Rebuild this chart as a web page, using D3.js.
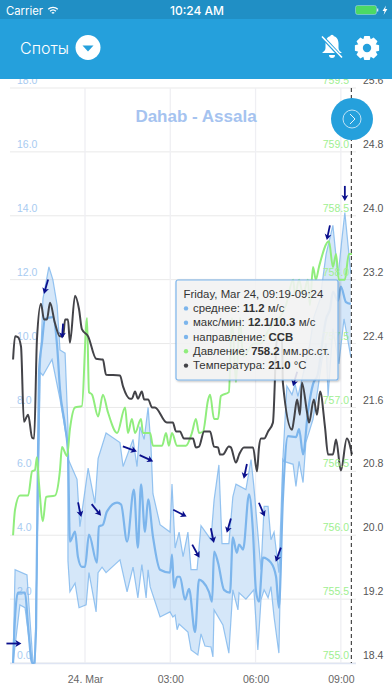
<!DOCTYPE html>
<html>
<head>
<meta charset="utf-8">
<script src="https://d3js.org/d3.v7.min.js"></script>
<style>
  html, body { margin: 0; padding: 0; background: #fff; overflow: hidden; }
  text { font-family: "Liberation Sans", Arial, sans-serif; }
</style>
</head>
<body>
<div id="chart"></div>
<script>
// hours relative to 24 Mar 00:00
const maxHours = [-2.53,-2.46,-2.04,-2,-1.83,-1.76,-1.69,-1.58,-1.48,-1.27,-1.13,-0.98,-0.88,-0.7,-0.6,-0.6,-0.28,-0.18,0.11,0.35,0.46,0.74,1.23,1.34,1.69,1.83,1.93,2.08,2.22,2.32,2.39,2.64,2.99,3.06,3.17,3.31,3.45,3.62,3.73,3.94,4.08,4.43,4.54,4.71,4.82,5.06,5.2,5.31,5.66,5.84,5.94,6.19,6.3,6.44,6.54,6.65,6.82,6.96,7.1,7.28,7.39,7.49,7.67,7.91,8.05,8.27,8.48,8.72,8.9,9.04,9.14,9.35];
const maxValues = [0,2.92,2.76,2.2,0,0,3.2,9.1,11.4,12.4,12,11.2,9.8,9.7,7.4,6.4,5.75,4.27,6.1,5,6.4,7.2,6.9,6.15,7,6.15,7.4,7,8,6.8,5.3,4.33,4.1,5.6,3.6,4.1,3.33,4.1,2.92,2.92,4.3,3.86,5.1,6.2,3.74,3.74,5.2,5.6,5.43,6.37,5.53,2.92,4.9,4.9,3.86,4.1,2.83,6.37,8.67,8.4,8.73,8.35,9.04,10,10.83,11.4,12.8,13.7,12.1,13.3,14.1,12.2];

const minHours = [-2.53,-2.29,-2.11,-1.86,-1.76,-1.69,-1.58,-1.48,-1.16,-0.88,-0.6,-0.6,-0.53,-0.35,-0.21,0.04,0.14,0.39,0.46,0.6,0.74,1.23,1.48,1.69,1.86,2,2.15,2.22,2.29,2.64,2.99,3.09,3.17,3.24,3.31,3.62,3.73,3.97,4.08,4.22,4.43,4.5,4.54,4.85,5.06,5.2,5.38,5.42,5.66,5.94,6.08,6.19,6.3,6.44,6.54,6.65,6.82,6.96,7,7.32,7.42,7.53,7.67,7.77,8.02,8.19,8.34,8.48,8.55,8.72,8.93,9.11,9.35];
const minValues = [0,1.82,1.73,0,0,3.2,9.1,9,9.5,8.26,6.8,3.2,2.23,2.5,1.73,1.82,2.83,1.6,2.83,3,2.83,3.23,2.23,3,2.04,3.08,2.04,2.92,2.39,1.44,1.6,1.44,1.5,1.04,1.22,0.97,0.41,0.25,0.91,0.53,0.5,0.19,1.66,1.19,0.31,2.29,1.66,2.2,2,2.29,0.41,1.98,2.29,2.04,2.39,1.44,0.31,6.37,6.31,6.22,5.53,6.31,5.65,6.91,7.63,8.57,9.51,10,8.35,10.46,9.36,10.77,9.58];

const avgHours = [-2.53,-2.46,-2.36,-2.11,-2,-1.86,-1.79,-1.72,-1.62,-1.51,-1.41,-1.13,-0.98,-0.88,-0.7,-0.6,-0.53,-0.35,-0.25,-0.11,0,0.14,0.42,0.49,0.63,0.77,1.13,1.27,1.48,1.72,1.86,1.97,2.11,2.22,2.39,2.64,2.99,3.06,3.13,3.24,3.34,3.52,3.66,3.87,4.01,4.15,4.36,4.47,4.54,4.68,4.89,5.1,5.2,5.34,5.42,5.56,5.77,5.91,6.01,6.12,6.26,6.54,6.72,6.82,6.96,7.14,7.42,7.53,7.67,7.84,8.02,8.19,8.34,8.48,8.62,8.72,8.9,9,9.18,9.35];
const avgValues = [0,1.44,2.2,2.2,1.13,0,0,1.13,9.1,10.05,10.77,10.83,9.92,8.57,7.41,6.59,3.8,4.11,3.33,3.01,3.01,4.02,3.14,4.27,4.33,4.74,5.02,4.96,3.8,5.43,3.61,5.59,4.11,5.12,3.96,2.92,2.83,3.39,2.36,2.7,2.7,1.98,2.32,0.97,2.61,2.54,2.23,1.92,3.49,3.14,2.29,2.2,3.93,3.45,3.71,3.55,5.28,4.08,2.29,1.92,3.3,3.14,2.7,1.73,5.12,7.1,7.07,7.32,6.53,7.85,8.73,9.04,9.99,10.77,11.08,11.62,11.34,11.78,11.3,11.24];

const pressureHours = [-2.53,-2.46,-2.29,-2,-1.86,-1.76,-1.69,-1.62,-1.48,-1.37,-1.06,-0.88,-0.81,-0.63,-0.53,-0.35,-0.11,0.07,0.14,0.25,0.46,0.63,0.81,1.13,1.41,1.51,1.65,1.76,1.97,2.04,2.29,2.39,2.71,2.85,2.95,3.06,3.24,3.55,3.76,3.9,4.01,4.15,4.33,4.4,4.54,4.68,4.78,5.06,5.17,5.31,5.45,5.56,5.94,6.19,6.44,7.07,7.32,7.39,7.53,7.67,7.84,7.91,8.02,8.12,8.23,8.58,8.72,8.83,8.93,9.14,9.28,9.39];
const pressureValues = [756,756.2,756.31,756.31,756.5,756.51,756.61,756.41,756.11,756.3,756.31,756.51,756.69,756.62,756.83,757,757.01,757.7,757.12,757.1,756.93,757.1,756.96,756.8,757,756.8,756.91,756.8,756.91,756.8,756.8,756.7,756.7,756.8,756.7,756.8,756.7,756.7,756.8,756.91,756.8,756.81,757.06,757.1,756.91,756.91,757.09,757.12,757.7,757.2,757.7,757.4,757.5,757.5,757.6,757.8,758,757.88,758,757.88,758,757.8,758.1,758,758.1,758.3,758.1,758.2,758,758,758.2,758.2];

const tempHours = [-2.53,-2.46,-2.36,-2.25,-2.15,-2,-1.86,-1.79,-1.69,-1.55,-1.44,-1.34,-1.23,-1.06,-0.88,-0.77,-0.7,-0.6,-0.53,-0.35,-0.21,-0.11,0.11,0.39,0.63,0.74,1.23,1.34,1.58,1.65,1.76,1.86,2,2.08,2.22,2.36,2.46,2.88,3.09,3.2,3.34,3.48,3.8,3.9,4.01,4.19,4.4,4.54,4.68,4.75,4.85,5.06,5.13,5.31,5.42,5.59,5.91,6.05,6.12,6.19,6.3,6.44,6.61,6.75,6.93,6.96,7.28,7.35,7.46,7.56,7.63,7.81,7.88,8.05,8.16,8.27,8.44,8.55,8.72,8.83,9,9.21,9.39];
const tempValues = [22.2,22.49,22.48,22.36,21.42,21.51,21.22,21.21,22.45,22.9,22.7,22.7,22.91,22.66,22.49,22.49,22.7,22.7,22.41,23,22.83,22.58,22.49,22.21,22.2,22.01,22,21.86,21.71,21.71,21.8,21.71,21.8,21.7,21.7,21.6,21.6,21.41,21.41,21.3,21.3,21.21,21.21,21.1,21.11,21.3,21.3,21.11,21.1,21.01,21.01,21.11,21.1,20.91,21.01,21.1,21.1,20.8,21.1,21.21,21.21,21.3,21.41,22.45,22.45,21.91,21.32,21.45,21.7,21.51,21.91,21.54,21.41,21.7,21.51,21.8,21.36,21.01,21.01,21.2,20.81,21.21,21.01];

const arrowHours = [-2.5,-1.37,-0.79,-0.19,0.4,1.58,2.16,3.34,3.9,4.48,5.06,5.64,6.22,6.8,7.39,8.56,9.14];
const arrowValues = [0.61,11.78,10.39,4.8,4.79,6.7,6.41,4.69,3.5,3.99,4.3,6,4.8,3.39,8.89,13.47,14.7];
const arrowBearings = [90,196,184,168,141,110,115,117,151,168,196,192,157,200,196,192,180];

const timeTicks = [0, 3, 6, 9];
const timeTickLabels = ["24. Mar", "03:00", "06:00", "09:00"];
const windTicks = [0, 2, 4, 6, 8, 10, 12, 14, 16, 18];
const pressureTicks = [755, 755.5, 756, 756.5, 757, 757.5, 758, 758.5, 759, 759.5];
const tempTicks = [18.4, 19.2, 20, 20.8, 21.6, 22.4, 23.2, 24, 24.8, 25.6];

const crosshairHour = 9.35;
const tooltipHeader = "Friday, Mar 24, 09:19-09:24";
const tooltipRows = [
  { color: "#7cb5ec", label: "среднее: ", value: "11.2", unit: " м/с" },
  { color: "#7cb5ec", label: "макс/мин: ", value: "12.1/10.3", unit: " м/с" },
  { color: "#7cb5ec", label: "направление: ", value: "ССВ", unit: "" },
  { color: "#90ed7d", label: "Давление: ", value: "758.2", unit: " мм.рс.ст." },
  { color: "#434348", label: "Температура: ", value: "21.0", unit: " °C" }
];

const width = 392;
const height = 696;
const plotLeft = 10, plotRight = 356, plotTop = 88, plotBottom = 663;

const svg = d3.select("#chart").append("svg")
  .attr("width", width)
  .attr("height", height)
  .style("display", "block");

const x = d3.scaleLinear().domain([(plotLeft - 85) / 28.43, (plotRight - 85) / 28.43]).range([plotLeft, plotRight]);
const yWind = d3.scaleLinear().domain([0, 18]).range([plotBottom, plotTop]);
const yPressure = d3.scaleLinear().domain([755, 759.5]).range([plotBottom, plotTop]);
const yTemp = d3.scaleLinear().domain([18.4, 25.6]).range([plotBottom, plotTop]);

// grid
svg.append("g").selectAll("line").data(windTicks).join("line")
  .attr("x1", plotLeft).attr("x2", plotRight)
  .attr("y1", d => yWind(d)).attr("y2", d => yWind(d))
  .attr("stroke", "#e9e9e9").attr("stroke-width", 1);

svg.append("g").selectAll("line").data(timeTicks).join("line")
  .attr("x1", d => x(d)).attr("x2", d => x(d))
  .attr("y1", plotTop).attr("y2", plotBottom)
  .attr("stroke", "#efeff3").attr("stroke-width", 1.3);

svg.append("line")
  .attr("x1", plotLeft).attr("x2", plotRight)
  .attr("y1", plotBottom + 0.5).attr("y2", plotBottom + 0.5)
  .attr("stroke", "#dfe5f3").attr("stroke-width", 1.5);

// axes
const xAxis = svg.append("g")
  .attr("transform", `translate(0,${plotBottom})`)
  .call(d3.axisBottom(x).tickValues(timeTicks).tickSize(0).tickFormat((d, i) => timeTickLabels[i]));
xAxis.select(".domain").remove();
xAxis.selectAll("text").attr("y", 13).attr("dy", "0.71em")
  .attr("fill", "#666").style("font-size", "10.5px").style("font-family", "Liberation Sans");

const windAxis = svg.append("g")
  .attr("transform", "translate(17,0)")
  .call(d3.axisRight(yWind).tickValues(windTicks).tickSize(0).tickFormat(d3.format(".1f")));
windAxis.select(".domain").remove();
windAxis.selectAll("text").attr("x", 0).attr("dy", "-0.42em")
  .attr("fill", "#a8cbf1").style("font-size", "10.5px").style("font-family", "Liberation Sans");

const tempAxis = svg.append("g")
  .attr("transform", "translate(363,0)")
  .call(d3.axisRight(yTemp).tickValues(tempTicks).tickSize(0).tickFormat(d3.format(".1f")));
tempAxis.select(".domain").remove();
tempAxis.selectAll("text").attr("x", 0).attr("dy", "-0.42em")
  .attr("fill", "#555").style("font-size", "10.5px").style("font-family", "Liberation Sans");

// title
svg.append("text")
  .attr("x", 196).attr("y", 122)
  .attr("text-anchor", "middle")
  .attr("font-size", "17px").attr("font-weight", "bold")
  .attr("fill", "#a5c3f0")
  .text("Dahab - Assala");

// series
const pairs = (hours, values) => hours.map((h, i) => [h, values[i]]);
const maxPts = pairs(maxHours, maxValues);
const minPts = pairs(minHours, minValues);

const windLine = d3.line().x(d => x(d[0])).y(d => yWind(d[1]));

svg.append("path")
  .attr("d", windLine(maxPts.concat(minPts.slice().reverse())) + "Z")
  .attr("fill", "#7cb5ec").attr("fill-opacity", 0.32);

[maxPts, minPts].forEach(pts => {
  svg.append("path")
    .attr("d", windLine(pts))
    .attr("fill", "none")
    .attr("stroke", "#7cb5ec").attr("stroke-width", 1.2).attr("stroke-opacity", 0.8);
});

svg.append("path")
  .attr("d", d3.line().curve(d3.curveMonotoneX).x(d => x(d[0])).y(d => yWind(d[1]))(pairs(avgHours, avgValues)))
  .attr("fill", "none")
  .attr("stroke", "#7cb5ec").attr("stroke-width", 2.2);

svg.append("path")
  .attr("d", d3.line().curve(d3.curveMonotoneX).x(d => x(d[0])).y(d => yPressure(d[1]))(pairs(pressureHours, pressureValues)))
  .attr("fill", "none")
  .attr("stroke", "#90ed7d").attr("stroke-width", 2);

svg.append("path")
  .attr("d", d3.line().curve(d3.curveMonotoneX).x(d => x(d[0])).y(d => yTemp(d[1]))(pairs(tempHours, tempValues)))
  .attr("fill", "none")
  .attr("stroke", "#434348").attr("stroke-width", 2);

// pressure labels sit over the series
const pressureAxis = svg.append("g")
  .attr("transform", "translate(349,0)")
  .call(d3.axisLeft(yPressure).tickValues(pressureTicks).tickSize(0).tickFormat(d3.format(".1f")));
pressureAxis.select(".domain").remove();
pressureAxis.selectAll("text").attr("x", 0).attr("dy", "-0.42em")
  .attr("fill", "#a0ef91").style("font-size", "10.5px").style("font-family", "Liberation Sans");

// wind direction arrows
const arrows = svg.append("g").selectAll("g")
  .data(arrowHours)
  .join("g")
  .attr("transform", (d, i) => `translate(${x(d)},${yWind(arrowValues[i])}) rotate(${arrowBearings[i]})`);
arrows.append("line")
  .attr("x1", 0).attr("y1", 7.5).attr("x2", 0).attr("y2", -4)
  .attr("stroke", "#0a0f8c").attr("stroke-width", 1.8);
arrows.append("path")
  .attr("d", "M0,-7.5L3.4,-1.5L0,-3L-3.4,-1.5Z")
  .attr("fill", "#0a0f8c");

// crosshair
svg.append("line")
  .attr("x1", x(crosshairHour) + 0.5).attr("x2", x(crosshairHour) + 0.5)
  .attr("y1", plotTop).attr("y2", plotBottom)
  .attr("stroke", "#222").attr("stroke-width", 1).attr("stroke-dasharray", "4,3");

// tooltip
const defs = svg.append("defs");
const shadow = defs.append("filter").attr("id", "shadow")
  .attr("x", "-5%").attr("y", "-5%").attr("width", "110%").attr("height", "115%");
shadow.append("feDropShadow")
  .attr("dx", 1).attr("dy", 1).attr("stdDeviation", 1.2)
  .attr("flood-color", "#000").attr("flood-opacity", 0.3);

const tip = svg.append("g").attr("transform", "translate(176,280)");
tip.append("rect")
  .attr("width", 162).attr("height", 100).attr("rx", 2)
  .attr("fill", "#f7f7f7").attr("fill-opacity", 0.85)
  .attr("stroke", "#7cb5ec").attr("stroke-width", 1.2)
  .attr("filter", "url(#shadow)");
tip.append("text")
  .attr("x", 7.5).attr("y", 18)
  .attr("font-size", "11.4px").attr("fill", "#333")
  .text(tooltipHeader);
const rows = tip.selectAll("g.row").data(tooltipRows).join("g")
  .attr("class", "row")
  .attr("transform", (d, i) => `translate(0,${32 + i * 14.3})`);
rows.append("circle")
  .attr("cx", 10).attr("cy", -3.6).attr("r", 2.2)
  .attr("fill", d => d.color);
const rowText = rows.append("text")
  .attr("x", 17).attr("font-size", "11.4px").attr("fill", "#333");
rowText.append("tspan").text(d => d.label);
rowText.append("tspan").attr("font-weight", "bold").text(d => d.value);
rowText.append("tspan").text(d => d.unit);

// app header goes over the chart
svg.append("rect").attr("x", 0).attr("y", 0).attr("width", width).attr("height", 79).attr("fill", "#25a0dc");
svg.append("rect").attr("x", 0).attr("y", 0).attr("width", width).attr("height", 19).attr("fill", "#208fc5");

const statusFont = "Inter";
svg.append("text").attr("x", 6).attr("y", 14.5).attr("font-size", "11.3px").attr("fill", "#fff")
  .style("font-family", statusFont).text("Carrier");
svg.append("text").attr("x", 197).attr("y", 14.5).attr("font-size", "12px").attr("font-weight", 500)
  .attr("text-anchor", "middle").attr("fill", "#fff")
  .style("font-family", statusFont).text("10:24 AM");

// wifi icon
[7.5, 4.8, 2.2].forEach(r => {
  svg.append("path")
    .attr("transform", "translate(53,14.5)")
    .attr("d", d3.arc().innerRadius(r - 1.1).outerRadius(r + 0.2).startAngle(-0.75).endAngle(0.75)())
    .attr("fill", "#fff");
});

// battery icon
svg.append("rect").attr("x", 355.5).attr("y", 5.5).attr("width", 21).attr("height", 9).attr("rx", 2)
  .attr("fill", "#4cd964").attr("stroke", "#9ed0e6").attr("stroke-width", 0.6);
svg.append("rect").attr("x", 377).attr("y", 8.5).attr("width", 1.3).attr("height", 3).attr("fill", "#cfe8f4");
svg.append("path").attr("d", "M386,5.5L382.5,11H384.6L383.6,15L387.4,9H385.2Z").attr("fill", "#fff");

svg.append("text").attr("x", 20).attr("y", 53.5).attr("font-size", "16px").attr("font-weight", 300).attr("fill", "#fff")
  .style("font-family", "Inter").text("Споты");
svg.append("circle").attr("cx", 88).attr("cy", 47.5).attr("r", 12.5).attr("fill", "#fff");
svg.append("path").attr("d", "M82.5,45.5H93.5L88,51.5Z").attr("fill", "#25a0dc");

// muted bell
svg.append("path")
  .attr("d", "M332,36c-4.5,0-6.5,3.5-6.5,7.5v4.5c0,2-1.5,3.5-3.5,5h20c-2-1.5-3.5-3-3.5-5v-4.5c0-4-2-7.5-6.5-7.5Z")
  .attr("fill", "#fff");
svg.append("circle").attr("cx", 332).attr("cy", 36.5).attr("r", 1.8).attr("fill", "#fff");
svg.append("path").attr("d", "M329,55a3,3 0 0 0 6,0Z").attr("fill", "#fff");
svg.append("line").attr("x1", 322.5).attr("y1", 37).attr("x2", 342).attr("y2", 58)
  .attr("stroke", "#25a0dc").attr("stroke-width", 3.6);
svg.append("line").attr("x1", 322).attr("y1", 36.5).attr("x2", 342).attr("y2", 57.5)
  .attr("stroke", "#fff").attr("stroke-width", 1.6);

// gear
const gearPoints = d3.range(0, 8).flatMap(i => {
  const a = i * Math.PI / 4;
  return [[a - 0.42, 9.2], [a - 0.22, 12.4], [a + 0.22, 12.4], [a + 0.42, 9.2]];
});
svg.append("path")
  .attr("transform", "translate(367,48)")
  .attr("d", d3.lineRadial().angle(d => d[0]).radius(d => d[1])(gearPoints) + "Z")
  .attr("fill", "#fff");
svg.append("circle").attr("cx", 367).attr("cy", 48).attr("r", 4.2).attr("fill", "#25a0dc");

// floating button
svg.append("circle").attr("cx", 352).attr("cy", 119).attr("r", 21).attr("fill", "#25a0dc");
svg.append("circle").attr("cx", 352).attr("cy", 119).attr("r", 9)
  .attr("fill", "none").attr("stroke", "#cfe9f7").attr("stroke-width", 0.9);
svg.append("path").attr("d", "M350,114L355,119L350,124")
  .attr("fill", "none").attr("stroke", "#e6f4fb").attr("stroke-width", 1);
</script>
</body>
</html>
